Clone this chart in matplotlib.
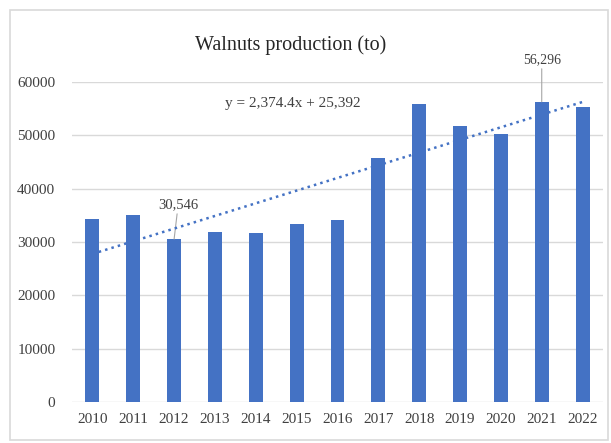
import numpy as np
import matplotlib.pyplot as plt
from matplotlib.patches import Rectangle

plt.rcParams['font.family'] = ['Liberation Serif', 'DejaVu Serif']

years = ['2010', '2011', '2012', '2013', '2014', '2015', '2016',
         '2017', '2018', '2019', '2020', '2021', '2022']
production = [34300, 35000, 30546, 31800, 31600, 33300, 34100,
              45700, 55900, 51700, 50300, 56296, 55300]
# trendline coefficients as printed on the chart
slope = 2374.4
intercept = 25392

bar_color = '#4472C4'
text_color = '#404040'

fig = plt.figure(figsize=(6.11, 4.43), dpi=100)
fig.patches.append(Rectangle((10/611, 3/443), 598/611, 430/443, transform=fig.transFigure,
                             fill=False, edgecolor='#d9d9d9', lw=1.2))

ax = fig.add_axes([72/611, 41/443, 531/611, 320/443])
x = np.arange(len(years))
ax.bar(x, production, width=0.34, color=bar_color, zorder=3)

# linear trend, x counted from 1 like in Excel
xt = x + 1
ax.plot(x, slope * xt + intercept, linestyle=':', color=bar_color, lw=1.8, zorder=4)

ax.set_xlim(-0.5, len(years) - 0.5)
ax.set_ylim(0, 60000)
ax.set_yticks(range(0, 60001, 10000))
ax.set_xticks(x)
ax.set_xticklabels(years)
ax.tick_params(axis='both', length=0, labelsize=11, colors=text_color)
ax.tick_params(axis='y', pad=12)
ax.tick_params(axis='x', pad=8)
ax.grid(axis='y', color='#d9d9d9', lw=1, zorder=0)
for s in ax.spines.values():
	s.set_visible(False)

# data labels with leader lines
ax.annotate('30,546', xy=(2, production[2]), xytext=(2.1, 35800),
            ha='center', va='bottom', fontsize=10.5, color=text_color,
            arrowprops=dict(arrowstyle='-', color='#a6a6a6', lw=0.8, shrinkA=0, shrinkB=0))
ax.annotate('56,296', xy=(11, production[11]), xytext=(11, 63000),
            ha='center', va='bottom', fontsize=10, color=text_color,
            annotation_clip=False,
            arrowprops=dict(arrowstyle='-', color='#a6a6a6', lw=0.8, shrinkA=0, shrinkB=0))

ax.text(4.9, 56000, 'y = 2,374.4x + 25,392', ha='center', va='center',
        fontsize=11, color=text_color)

fig.text(291/611, 398/443, 'Walnuts production (to)', ha='center', va='center',
         fontsize=14.5, color='#262626')

fig.savefig('out.png', dpi=100)
